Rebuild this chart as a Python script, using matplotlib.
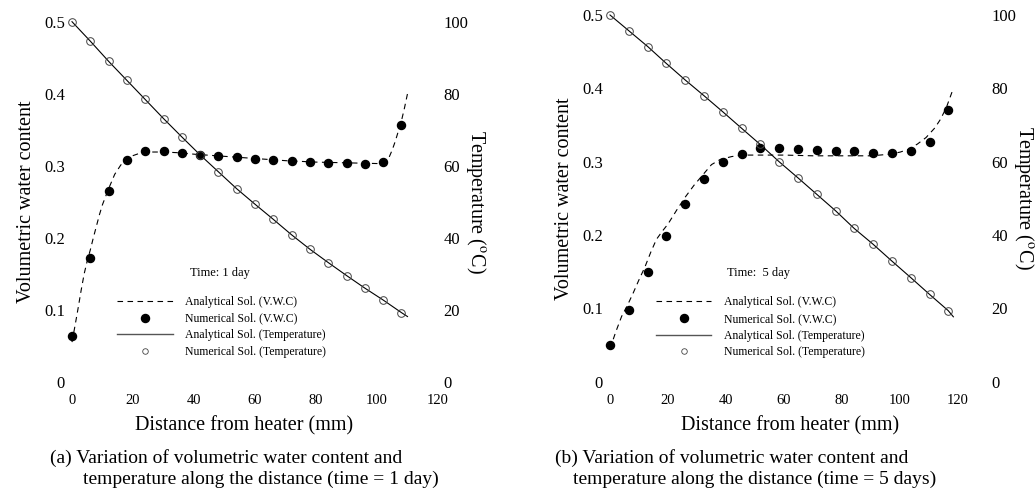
import matplotlib
matplotlib.use("Agg")
import matplotlib.pyplot as plt
from matplotlib.lines import Line2D

plt.rcParams["font.family"] = ["Liberation Serif", "DejaVu Serif"]
plt.rcParams["mathtext.fontset"] = "stix"

# ---- panel (a) : time = 1 day ----
dist_a = [0, 6, 12, 18, 24, 30, 36, 42, 48, 54, 60, 66, 72, 78, 84, 90, 96, 102, 108]
vwc_num_a = [0.064, 0.172, 0.265, 0.308, 0.321, 0.320, 0.317, 0.315, 0.314, 0.312,
             0.309, 0.308, 0.306, 0.305, 0.304, 0.304, 0.303, 0.305, 0.356]
temp_num_a = [100.0, 94.6, 89.0, 83.7, 78.4, 73.1, 68.0, 63.0, 58.3, 53.6,
              49.3, 45.1, 40.8, 36.8, 33.1, 29.5, 26.0, 22.7, 19.2]
vwc_ana_x_a = [0, 1, 2, 3, 4, 5, 6, 7, 8, 9, 10, 12, 14, 16, 18, 20, 22, 25, 30, 35, 40,
               50, 60, 70, 80, 90, 100, 103, 104, 105, 106, 107, 108, 109, 110]
vwc_ana_a = [0.055, 0.078, 0.102, 0.127, 0.150, 0.168, 0.183, 0.200, 0.216, 0.232, 0.246,
             0.268, 0.288, 0.301, 0.309, 0.314, 0.317, 0.319, 0.319, 0.318, 0.316,
             0.313, 0.310, 0.307, 0.305, 0.304, 0.303, 0.306, 0.312, 0.322, 0.334,
             0.348, 0.362, 0.380, 0.400]
temp_ana_x_a = dist_a + [110]
temp_ana_a = temp_num_a + [18.1]

# ---- panel (b) : time = 5 days ----
dist_b = [0, 6.5, 13.0, 19.4, 25.9, 32.4, 38.9, 45.4, 51.8, 58.3,
          64.8, 71.3, 77.8, 84.2, 90.7, 97.2, 103.7, 110.2, 116.6]
vwc_num_b = [0.050, 0.098, 0.149, 0.199, 0.242, 0.276, 0.299, 0.310, 0.318, 0.318,
             0.317, 0.316, 0.315, 0.314, 0.312, 0.312, 0.315, 0.327, 0.370]
temp_num_b = [100.0, 95.7, 91.4, 86.8, 82.3, 78.0, 73.6, 69.1, 64.7, 60.0,
              55.6, 51.1, 46.6, 41.8, 37.5, 32.9, 28.4, 23.8, 19.4]
vwc_ana_x_b = [0, 2, 4, 6, 8, 10, 12, 14, 16, 18, 20, 23, 26, 29, 32, 35, 38, 42, 46, 50,
               60, 70, 80, 90, 96, 100, 103, 106, 109, 112, 114, 116, 118.4]
vwc_ana_b = [0.045, 0.068, 0.089, 0.104, 0.121, 0.139, 0.156, 0.176, 0.194, 0.205, 0.215,
             0.234, 0.252, 0.268, 0.282, 0.296, 0.303, 0.307, 0.309, 0.309,
             0.309, 0.308, 0.308, 0.308, 0.310, 0.313, 0.317, 0.324, 0.333, 0.346,
             0.358, 0.374, 0.400]
temp_ana_x_b = dist_b + [118.4]
temp_ana_b = temp_num_b + [17.7]

vwc_ticks = [0, 0.1, 0.2, 0.3, 0.4, 0.5]
vwc_ticklabels = ["0", "0.1", "0.2", "0.3", "0.4", "0.5"]
temp_ticks = [0, 20, 40, 60, 80, 100]
dist_ticks = [0, 20, 40, 60, 80, 100, 120]

legend_labels = ["Analytical Sol. (V.W.C)", "Numerical Sol. (V.W.C)",
                 "Analytical Sol. (Temperature)", "Numerical Sol. (Temperature)"]

W, H = 1036, 499
fig = plt.figure(figsize=(W / 100, H / 100), dpi=100)


def px_axes(x0, x1, y_top, y_bot):
    return fig.add_axes([x0 / W, 1 - y_bot / H, (x1 - x0) / W, (y_bot - y_top) / H])


def panel(ax, d, vn, tn, vax, va, tax, ta, time_txt, leg_xy, txt_xy, rpad, xlab_x,
          caption, cap_x):
    ax2 = ax.twinx()
    ax.plot(vax, va, color="black", lw=0.8, ls=(0, (5, 4)), clip_on=False)
    ax.plot(d, vn, "o", color="black", ms=5.8, clip_on=False)
    ax2.plot(tax, ta, color="black", lw=0.8, clip_on=False)
    ax2.plot(d, tn, "o", mfc="none", mec="#444444", mew=0.7, ms=5.5, clip_on=False)

    ax.set_xlim(0, 120)
    ax.set_ylim(0, 0.5)
    ax2.set_ylim(0, 100)
    ax.set_xticks(dist_ticks)
    ax.set_yticks(vwc_ticks)
    ax.set_yticklabels(vwc_ticklabels)
    ax2.set_yticks(temp_ticks)
    for a in (ax, ax2):
        for s in a.spines.values():
            s.set_visible(False)
    ax.tick_params(axis="x", length=0, pad=9, labelsize=10.5)
    ax.tick_params(axis="y", length=0, pad=5, labelsize=12)
    ax2.tick_params(axis="y", length=0, pad=rpad, labelsize=12)

    ax.set_xlabel("Distance from heater (mm)", fontsize=14.5)
    ax.xaxis.set_label_coords(xlab_x, -0.095)
    ax.set_ylabel("Volumetric water content", fontsize=14.5, labelpad=6)
    ax2.set_ylabel(r"Temperature ($^{\rm o}$C)", fontsize=14.5, rotation=270, labelpad=14)

    handles = [Line2D([], [], color="black", lw=0.8, ls=(0, (5, 4))),
               Line2D([], [], ls="none", marker="o", color="black", ms=5.8),
               Line2D([], [], color="#555555", lw=1.0),
               Line2D([], [], ls="none", marker="o", mfc="none", mec="#444444", mew=0.6, ms=4)]
    ax2.legend(handles, legend_labels, loc="upper left", bbox_to_anchor=leg_xy,
               frameon=False, fontsize=8.5, handlelength=4.7, handletextpad=1.1,
               labelspacing=0.4, borderpad=0, borderaxespad=0)
    ax2.text(txt_xy[0], txt_xy[1], time_txt, transform=ax2.transAxes, fontsize=9,
             va="center", ha="left")
    fig.text(cap_x[0] / W, 1 - 458 / H, caption[0], fontsize=14, va="center", ha="left")
    fig.text(cap_x[1] / W, 1 - 479 / H, caption[1], fontsize=14, va="center", ha="left")


ax_a = px_axes(72, 438, 21.7, 381.7)
panel(ax_a, dist_a, vwc_num_a, temp_num_a, vwc_ana_x_a, vwc_ana_a, temp_ana_x_a, temp_ana_a,
      "Time: 1 day", (0.123, 0.238), (0.322, 0.302), 4, 0.47,
      ["(a) Variation of volumetric water content and",
       "temperature along the distance (time = 1 day)"], (50, 83))

ax_b = px_axes(610, 958, 15, 381.7)
panel(ax_b, dist_b, vwc_num_b, temp_num_b, vwc_ana_x_b, vwc_ana_b, temp_ana_x_b, temp_ana_b,
      "Time:  5 day", (0.132, 0.233), (0.336, 0.296), 24, 0.517,
      ["(b) Variation of volumetric water content and",
       "temperature along the distance (time = 5 days)"], (555, 573))

fig.savefig("out.png", dpi=100)
